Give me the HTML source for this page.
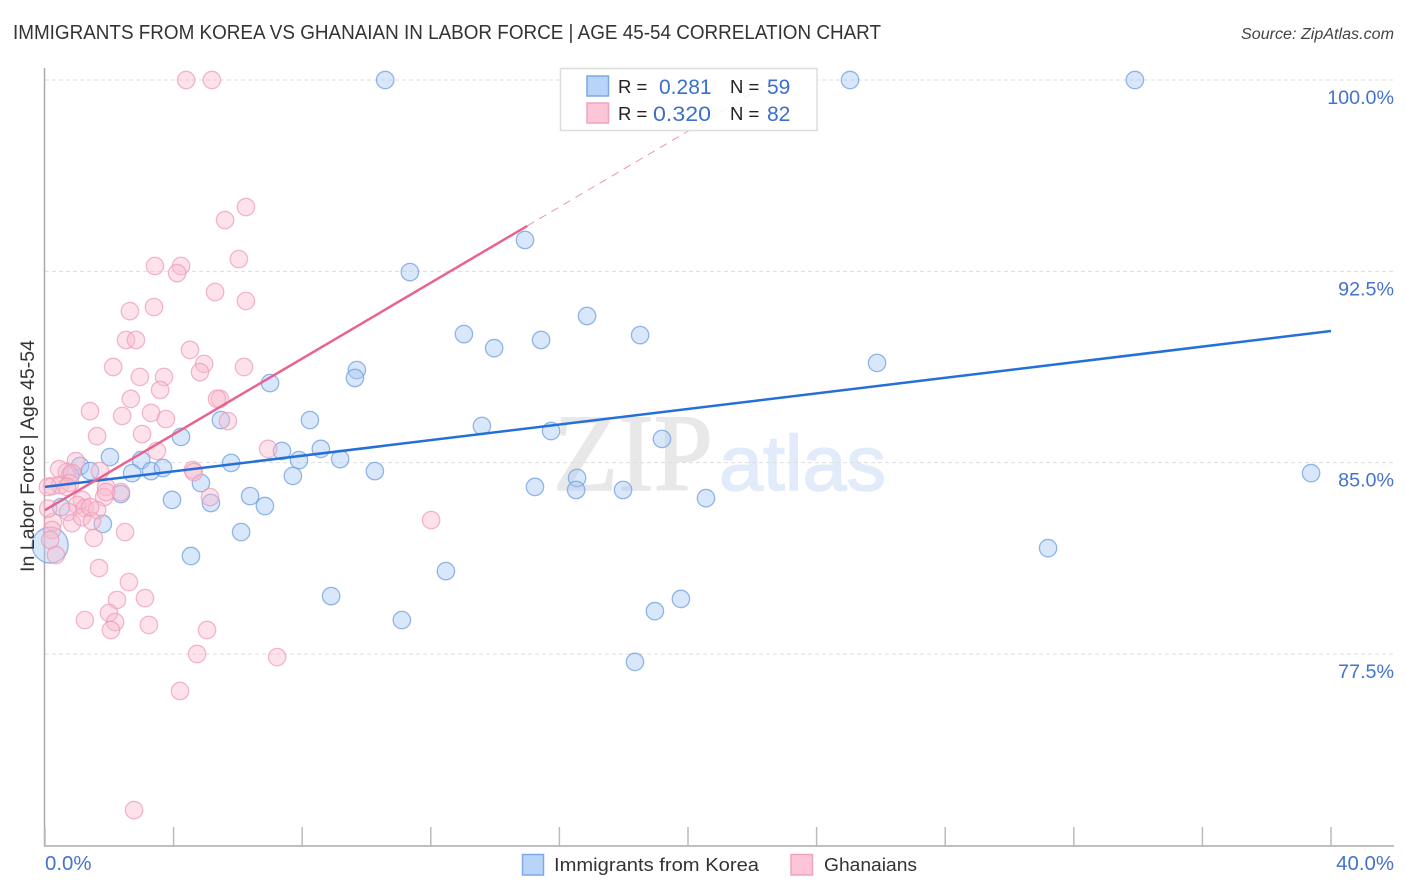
<!DOCTYPE html>
<html lang="en">
<head>
<meta charset="utf-8">
<title>Immigrants from Korea vs Ghanaian in Labor Force | Age 45-54 Correlation Chart</title>
<style>
  html, body { margin: 0; padding: 0; background: #fff; }
  svg { display: block; font-family: "Liberation Sans", sans-serif; }
</style>
</head>
<body>
<svg id="chart" xmlns="http://www.w3.org/2000/svg" width="1406" height="892" viewBox="0 0 1406 892">
  <rect x="0" y="0" width="1406" height="892" fill="#ffffff"/>
  <text x="13" y="39" font-size="20" fill="#333333" textLength="868" lengthAdjust="spacingAndGlyphs">IMMIGRANTS FROM KOREA VS GHANAIAN IN LABOR FORCE | AGE 45-54 CORRELATION CHART</text>
  <text x="1241" y="39" font-size="15.5" font-style="italic" fill="#444444" textLength="153" lengthAdjust="spacingAndGlyphs">Source: ZipAtlas.com</text>
  <text x="553" y="490" font-size="110" style="font-family:'Liberation Serif', serif" fill="#e8e8e8" stroke="#e8e8e8" stroke-width="1.5" textLength="160" lengthAdjust="spacingAndGlyphs">ZIP</text>
  <text x="719" y="490" font-size="78" style="font-family:'Liberation Sans', sans-serif" fill="#e2ebf9" stroke="#e2ebf9" stroke-width="1.5" textLength="167" lengthAdjust="spacingAndGlyphs">atlas</text>
  <g id="grid"></g>
  <g id="axes"></g>
  <g id="points-korea"></g>
  <g id="points-ghana"></g>
  <g id="trends"></g>
  <text transform="translate(34,456) rotate(-90)" text-anchor="middle" font-size="19.5" fill="#333333" textLength="232" lengthAdjust="spacingAndGlyphs">In Labor Force | Age 45-54</text>

  <g>
    <rect x="560.5" y="68.5" width="256.5" height="62" fill="#ffffff" fill-opacity="0.85" stroke="#dddddd" stroke-width="1.5"/>
    <rect x="587" y="76" width="21.5" height="20" fill="#b8d4f8" stroke="#7fa9e4" stroke-width="1.5"/>
    <rect x="587" y="103" width="21.5" height="20" fill="#fcc6d8" stroke="#f0a3bd" stroke-width="1.5"/>
    <text x="618" y="93" font-size="18.5" fill="#222222">R =</text>
    <text x="659" y="94" font-size="21" fill="#3a6fd0">0.281</text>
    <text x="730" y="93" font-size="18.5" fill="#222222">N =</text>
    <text x="767" y="94" font-size="21" fill="#3a6fd0">59</text>
    <text x="618" y="120" font-size="18.5" fill="#222222">R =</text>
    <text x="653" y="121" font-size="21" fill="#3a6fd0" textLength="58" lengthAdjust="spacingAndGlyphs">0.320</text>
    <text x="730" y="120" font-size="18.5" fill="#222222">N =</text>
    <text x="767" y="121" font-size="21" fill="#3a6fd0">82</text>
  </g>

  <g>
    <rect x="522.5" y="854.5" width="21" height="20.5" fill="#b8d4f8" stroke="#7fa9e4" stroke-width="1.5"/>
    <text x="554" y="871" font-size="18.5" fill="#333333" textLength="205" lengthAdjust="spacingAndGlyphs">Immigrants from Korea</text>
    <rect x="791" y="854.5" width="21.5" height="20.5" fill="#fcc6d8" stroke="#f0a3bd" stroke-width="1.5"/>
    <text x="824" y="871" font-size="18.5" fill="#333333" textLength="93" lengthAdjust="spacingAndGlyphs">Ghanaians</text>
  </g>
</svg>
<script>
const yTickValues = [100, 92.5, 85, 77.5];
const yTickLabels = ["100.0%", "92.5%", "85.0%", "77.5%"];
const xTickValues = [0, 4, 8, 12, 16, 20, 24, 28, 32, 36, 40];
const xEndValues = [0, 40];
const xEndLabels = ["0.0%", "40.0%"];

const koreaX = [10.58, 25.04, 33.90, 14.93, 11.35, 16.86, 13.03, 18.51, 15.43, 13.97, 25.88, 9.70, 9.64, 7.00, 8.24, 5.47, 13.59, 15.74, 4.23, 19.19, 2.02, 2.99, 7.37, 8.58, 9.18, 7.90, 5.79, 3.30, 3.67, 2.71, 1.09, 1.40, 0.78, 10.26, 7.71, 39.38, 4.85, 15.24, 16.55, 16.52, 17.98, 20.56, 2.36, 3.95, 6.38, 5.16, 6.84, 0.50, 1.80, 6.10, 31.20, 4.54, 12.47, 8.90, 19.78, 18.97, 11.10, 18.35, 0.16];
const koreaY = [100, 100, 100, 93.73, 92.47, 90.75, 90.04, 90.00, 89.81, 89.49, 88.91, 88.63, 88.32, 88.12, 86.67, 86.67, 86.44, 86.24, 86.01, 85.93, 85.22, 85.10, 85.46, 85.54, 85.14, 85.10, 84.99, 84.67, 84.79, 84.59, 84.87, 84.67, 84.52, 84.67, 84.48, 84.59, 84.20, 84.05, 84.40, 83.93, 83.93, 83.61, 83.77, 83.54, 83.69, 83.42, 83.30, 83.26, 82.60, 82.28, 81.65, 81.34, 80.75, 79.77, 79.66, 79.18, 78.83, 77.19, 81.77];

const ghanaX = [4.39, 5.19, 6.25, 5.60, 6.03, 3.42, 4.23, 4.11, 5.29, 6.25, 2.64, 3.39, 2.52, 2.83, 4.51, 4.95, 4.82, 6.19, 2.12, 2.95, 3.70, 3.58, 2.67, 5.44, 5.35, 1.40, 2.40, 3.30, 3.76, 5.69, 1.62, 3.02, 3.48, 6.94, 0.96, 0.44, 0.68, 1.71, 0.84, 4.60, 4.63, 0.22, 0.47, 0.78, 1.90, 1.84, 2.36, 5.13, 1.15, 1.00, 1.24, 0.72, 1.62, 0.84, 1.15, 1.46, 0.25, 0.22, 0.16, 0.34, 1.52, 2.49, 12.01, 1.68, 2.61, 2.24, 3.11, 1.99, 2.18, 2.05, 1.24, 3.23, 5.04, 4.73, 7.22, 4.20, 2.77, 0.09, 1.40, 1.90, 0.68, 0.10];
const ghanaY = [100, 100, 95.02, 94.51, 92.98, 92.71, 92.71, 92.43, 91.69, 91.34, 90.94, 91.10, 89.81, 89.81, 89.42, 88.87, 88.55, 88.75, 88.75, 88.36, 88.36, 87.85, 87.50, 87.50, 87.50, 87.02, 86.83, 86.95, 86.71, 86.63, 86.04, 86.12, 85.46, 85.54, 85.06, 84.75, 84.63, 84.67, 84.59, 84.71, 84.63, 84.08, 84.12, 84.20, 84.05, 83.65, 83.85, 83.65, 83.54, 83.34, 83.22, 83.07, 83.14, 82.63, 82.87, 82.71, 82.67, 82.36, 81.97, 81.38, 82.05, 82.28, 82.75, 80.87, 80.32, 79.62, 79.69, 79.11, 78.75, 78.44, 78.83, 78.64, 78.44, 77.50, 77.38, 76.05, 71.38, 84.05, 83.26, 83.85, 84.05, 83.20];

const koreaTrendX = [0, 40];
const koreaTrendY = [84.05, 90.16];
const ghanaTrendX = [0, 15];
const ghanaTrendY = [83.14, 94.28];
const ghanaDashX = [15, 22.7];
const ghanaDashY = [94.28, 100];

const NS = "http://www.w3.org/2000/svg";
function xScale(v) { return 45 + v * 32.15; }
function yScale(v) { return 80 + (100 - v) * 25.511; }

function make(tag, attrs, parent) {
  const el = document.createElementNS(NS, tag);
  for (const k in attrs) el.setAttribute(k, attrs[k]);
  parent.appendChild(el);
  return el;
}

const grid = document.getElementById("grid");
const axes = document.getElementById("axes");

yTickValues.forEach(function (v, i) {
  const line = make("line", { x1: 45, x2: 1394, y1: yScale(v), y2: yScale(v), stroke: "#dddddd", "stroke-width": 1, "stroke-dasharray": "4 3" }, grid);
  
  
  const label = make("text", { x: 1394, y: yScale(v) + 24, "text-anchor": "end", "font-size": 19.7, fill: "#4472cf" }, axes);
  
  
  label.textContent = yTickLabels[i];
});

const yAxisLine = make("line", { x1: 44.5, x2: 44.5, y1: 68, y2: 846, stroke: "#aaaaaa", "stroke-width": 1.5 }, axes);


const xAxisLine = make("line", { x1: 44, x2: 1394, y1: 846, y2: 846, stroke: "#aaaaaa", "stroke-width": 1.5 }, axes);



xTickValues.forEach(function (v) {
  const tick = make("line", { x1: xScale(v), x2: xScale(v), y1: 827, y2: 846, stroke: "#bbbbbb", "stroke-width": 1.5 }, axes);
  
  
});

xEndValues.forEach(function (v, i) {
  const isLast = i === xEndValues.length - 1;
  const label = make("text", { x: isLast ? 1394 : xScale(v), y: 870, "text-anchor": isLast ? "end" : "start", "font-size": 20.4, fill: "#4472cf" }, axes);
  
  
  label.textContent = xEndLabels[i];
});

const koreaGroup = document.getElementById("points-korea");
koreaX.forEach(function (v, i) {
  const largest = i === koreaX.length - 1;
  const c = make("circle", { cx: xScale(v), cy: yScale(koreaY[i]), r: largest ? 18 : 8.7, fill: "#a9c9f5", "fill-opacity": 0.45, stroke: "#6f9fe0", "stroke-opacity": 0.75, "stroke-width": 1.3 }, koreaGroup);
  
  
});

const ghanaGroup = document.getElementById("points-ghana");
ghanaX.forEach(function (v, i) {
  const c = make("circle", { cx: xScale(v), cy: yScale(ghanaY[i]), r: 8.7, fill: "#fab9cf", "fill-opacity": 0.42, stroke: "#ec9ab6", "stroke-opacity": 0.7, "stroke-width": 1.3 }, ghanaGroup);
  
  
});

const trends = document.getElementById("trends");
const koreaLine = make("line", { x1: xScale(koreaTrendX[0]), y1: yScale(koreaTrendY[0]), x2: xScale(koreaTrendX[1]), y2: yScale(koreaTrendY[1]), stroke: "#2470d8", "stroke-width": 2.5 }, trends);


const ghanaDash = make("line", { x1: xScale(ghanaDashX[0]), y1: yScale(ghanaDashY[0]), x2: xScale(ghanaDashX[1]), y2: yScale(ghanaDashY[1]), stroke: "#ea6f9a", "stroke-width": 1, "stroke-dasharray": "8 6", "stroke-opacity": 0.75 }, trends);


const ghanaLine = make("line", { x1: xScale(ghanaTrendX[0]), y1: yScale(ghanaTrendY[0]), x2: xScale(ghanaTrendX[1]), y2: yScale(ghanaTrendY[1]), stroke: "#e8638f", "stroke-width": 2.5 }, trends);


</script>
</body>
</html>
